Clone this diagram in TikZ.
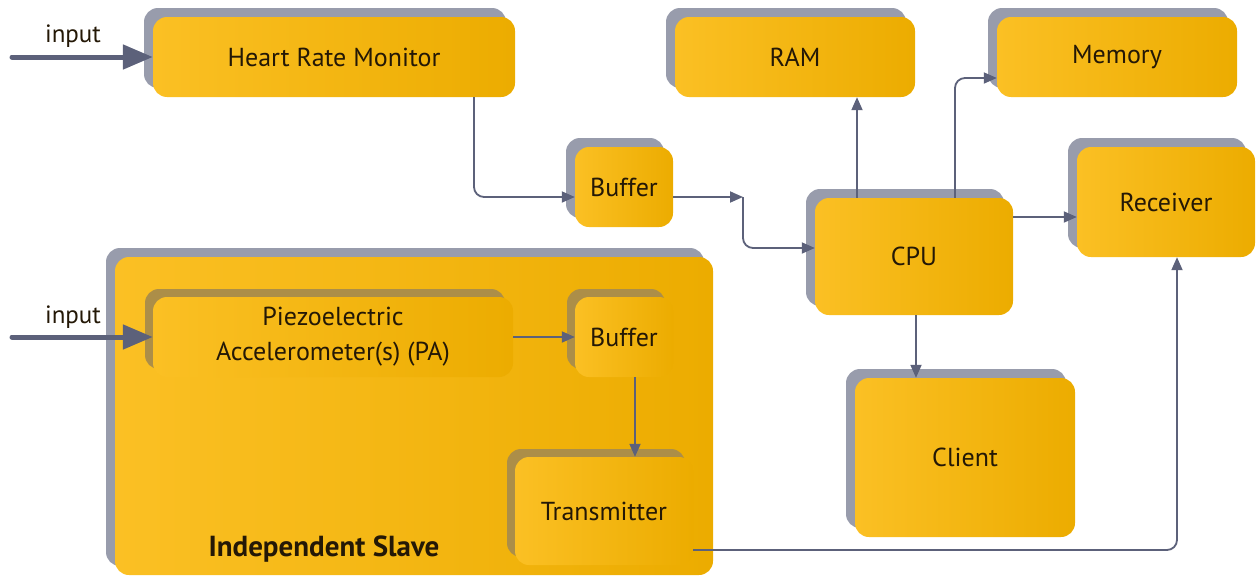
\documentclass[tikz,border=0pt]{standalone}
\usepackage{fontspec}
\setmainfont{PT Sans}
\usetikzlibrary{positioning}
\usetikzlibrary{shadows}
\usetikzlibrary{arrows.meta}
\definecolor{boxyellow}{RGB}{251,192,36}
\definecolor{boxyellowdark}{RGB}{236,172,0}
\definecolor{boxshadow}{RGB}{152,156,172}
\definecolor{innershadow}{RGB}{172,142,72}
\definecolor{linkgrey}{RGB}{92,97,122}
\definecolor{textdark}{RGB}{36,24,6}

\begin{document}
\begin{tikzpicture}[x=1pt,y=-1pt,
  unit/.style={rounded corners=14pt, left color=boxyellow, right color=boxyellowdark,
    draw=none, text=textdark, align=center, font=\fontsize{26}{35}\selectfont},
  outer/.style={unit, copy shadow={shadow xshift=-9pt, shadow yshift=9pt, fill=boxshadow, draw=none}},
  inner/.style={unit, copy shadow={shadow xshift=-8pt, shadow yshift=8pt, fill=innershadow, draw=none}},
  link/.style={draw=linkgrey, line width=1.8pt, rounded corners=10pt, -{Triangle[length=13pt,width=11pt]}},
  feed/.style={draw=linkgrey, line width=5pt, line cap=round, -{Triangle[length=30pt,width=24pt]}},
  lab/.style={text=textdark, font=\fontsize{25}{30}\selectfont}]
\useasboundingbox (0,0) rectangle (1259,581);

\node(slave)[outer, minimum width=598pt, minimum height=318pt] at (414,416) {};
\node(slavename)[text=textdark, font=\fontsize{29}{34}\selectfont\bfseries] at (324,549) {Independent Slave};

\node(hrm)[outer, minimum width=362pt, minimum height=80pt] at (334,57) {Heart Rate Monitor};
\node(ram)[outer, minimum width=240pt, minimum height=80pt] at (795,57) {RAM};
\node(mem)[outer, minimum width=240pt, minimum height=80pt] at (1117,57) {Memory};
\node(buf)[outer, minimum width=98pt, minimum height=80pt] at (624,187) {Buffer};
\node(cpu)[outer, minimum width=198pt, minimum height=117pt] at (914,256.5) {CPU};
\node(rec)[outer, minimum width=178pt, minimum height=110pt] at (1166,202) {Receiver};
\node(cli)[outer, minimum width=220pt, minimum height=159pt] at (965,457.5) {Client};

\node(pa)[inner, minimum width=360pt, minimum height=80pt] at (333,337) {Piezoelectric\\Accelerometer(s) (PA)};
\node(pbuf)[inner, minimum width=98pt, minimum height=80pt] at (624,337) {Buffer};
\node(tx)[inner, minimum width=178pt, minimum height=108pt] at (604,511) {Transmitter};

\coordinate(in1) at (12,57);
\coordinate(in2) at (12,337);
\coordinate(kink) at (743,197);
\node(lab1)[lab] at (73,36) {input};
\node(lab2)[lab] at (73,317) {input};

\draw[feed] (in1)--(hrm.west);
\draw[feed] (in2)--(pa.west);

\draw[link] ([xshift=140pt]hrm.south) |- ([yshift=-10pt]buf.west);
\draw[link] ([yshift=-10pt]buf.east) -- (kink);
\draw[link] (kink) |- ([yshift=8.5pt]cpu.west);
\draw[link] ([xshift=-57pt]cpu.north) -- ([xshift=62pt]ram.south);
\draw[link] ([xshift=41pt]cpu.north) |- ([yshift=-21pt]mem.west);
\draw[link] ([yshift=39.5pt]cpu.east) -- ([yshift=-15pt]rec.west);
\draw[link] ([xshift=2pt]cpu.south) -- ([xshift=-49pt]cli.north);

\draw[link] (pa.east) -- (pbuf.west);
\draw[link] ([xshift=11pt]pbuf.south) -- ([xshift=31pt]tx.north);
\draw[link] ([yshift=-39pt]tx.east) -| ([xshift=11pt]rec.south);
\end{tikzpicture}
\end{document}
